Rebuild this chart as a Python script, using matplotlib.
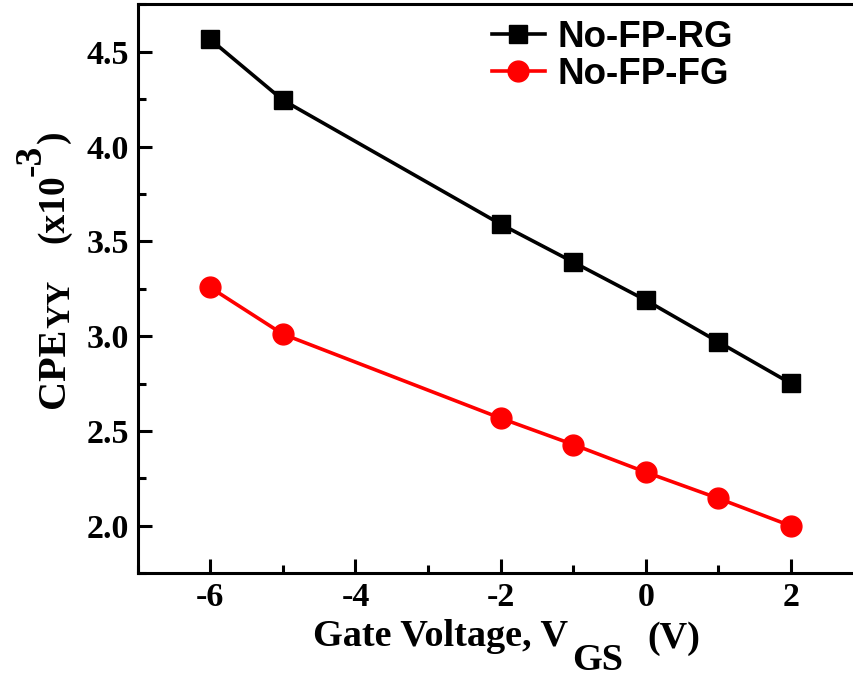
"""
CPE_YY versus gate voltage for the two no-field-plate devices.
"""

import matplotlib
matplotlib.use("Agg")
import matplotlib.pyplot as plt
from matplotlib.ticker import MultipleLocator


# =====================================================
# Data
# =====================================================

GATE_VOLTAGE = [-6, -5, -2, -1, 0, 1, 2]

CPE_RG = [4.565, 4.245, 3.591, 3.391, 3.190, 2.970, 2.751]

CPE_FG = [3.257, 3.011, 2.568, 2.429, 2.283, 2.145, 2.000]

SERIES_LABELS = ["No-FP-RG", "No-FP-FG"]

X_TICKS = [-6, -4, -2, 0, 2]
Y_TICKS = [2.0, 2.5, 3.0, 3.5, 4.0, 4.5]


W, H = 854, 681
SERIF = "Liberation Serif"
SANS = "Liberation Sans"


def fx(px):
    return px / W


def fy(py):
    return 1 - py / H


# =====================================================
# Plot
# =====================================================

def plot_cpe():

    fig = plt.figure(figsize=(W / 100, H / 100), dpi=100)

    ax = fig.add_axes([fx(137.7), fy(573.3), fx(863.5) - fx(137.7), fy(4.3) - fy(573.3)])

    ax.plot(GATE_VOLTAGE, CPE_RG, color="black", lw=2.6, marker="s",
            ms=13.5, label=SERIES_LABELS[0])
    ax.plot(GATE_VOLTAGE, CPE_FG, color="#ff0000", lw=2.6, marker="o",
            ms=15, label=SERIES_LABELS[1])

    ax.set_xlim(-7, 3)
    ax.set_ylim(1.75, 4.75)

    ax.set_xticks(X_TICKS)
    ax.set_yticks(Y_TICKS)
    ax.set_xticklabels([str(v) for v in X_TICKS])
    ax.set_yticklabels(["%.1f" % v for v in Y_TICKS])
    ax.xaxis.set_minor_locator(MultipleLocator(1))
    ax.yaxis.set_minor_locator(MultipleLocator(0.25))

    for s in ax.spines.values():
        s.set_linewidth(2.2)

    ax.tick_params(which="both", direction="in", width=2.2,
                   top=False, right=False)
    ax.tick_params(which="major", length=10, pad=6)
    ax.tick_params(which="minor", length=5.5)

    for lab in ax.get_xticklabels() + ax.get_yticklabels():
        lab.set_fontfamily(SERIF)
        lab.set_fontweight("bold")
        lab.set_fontsize(24.5)

    ax.legend(loc="upper left", bbox_to_anchor=(fx(492), fy(20)),
              bbox_transform=fig.transFigure, frameon=False,
              borderpad=0, borderaxespad=0, handlelength=1.43,
              handletextpad=0.36, labelspacing=0.06,
              prop={"family": SANS, "weight": "bold", "size": 26.5})

    # x label, subscript drawn at full size like the original
    xkw = dict(family=SERIF, weight="bold", fontsize=27.5, va="baseline", ha="left")
    fig.text(fx(313), fy(646), "Gate Voltage, V", **xkw)
    fig.text(fx(572), fy(670), "GS", **xkw)
    fig.text(fx(647), fy(648), "(V)", **xkw)

    # y label, rotated pieces
    ykw = dict(family=SERIF, weight="bold", va="baseline", ha="left",
               rotation=90, rotation_mode="anchor")
    fig.text(fx(64), fy(408), "CPE", fontsize=29, **ykw)
    fig.text(fx(69), fy(328), "YY", fontsize=24, **ykw)
    fig.text(fx(63), fy(243), "(x10", fontsize=27, **ykw)
    fig.text(fx(41), fy(176), "-3", fontsize=27, **ykw)
    fig.text(fx(63), fy(143), ")", fontsize=27, **ykw)

    fig.savefig("out.png", dpi=100)
    plt.close(fig)


# =====================================================
# Main
# =====================================================

if __name__ == "__main__":

    plot_cpe()
